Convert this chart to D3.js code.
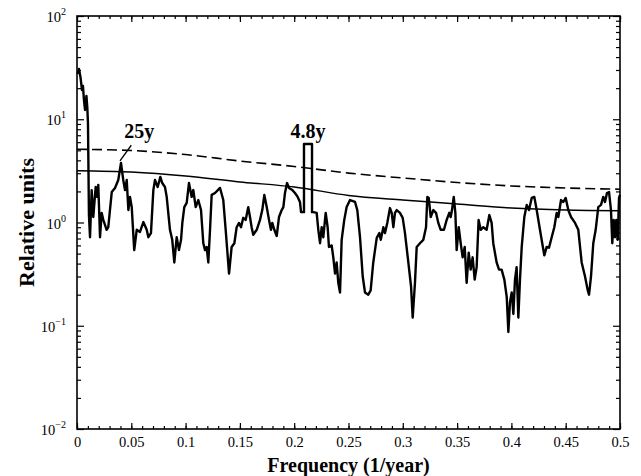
<!DOCTYPE html>
<html>
<head>
<meta charset="utf-8">
<script src="https://cdn.jsdelivr.net/npm/d3@7"></script>
<style>
  body { margin: 0; background: #fff; }
  svg text { font-family: "Liberation Serif", "Times New Roman", serif; fill: #000; }
</style>
</head>
<body>
<svg id="chart"></svg>
<script>
// spectrum
const freq = [0.0005,0.0018,0.0032,0.0046,0.0055,0.0064,0.0074,0.0087,0.0095,0.0101,0.0110,0.0120,0.0135,0.0150,0.0172,0.0184,0.0196,0.0212,0.0227,0.0242,
  0.0273,0.0288,0.0320,0.0350,0.0380,0.0405,0.0426,0.0442,0.0458,0.0473,0.0488,0.0504,0.0527,0.0550,0.0580,0.0611,0.0642,0.0657,0.0681,0.0703,
  0.0718,0.0743,0.0767,0.0785,0.0810,0.0826,0.0856,0.0877,0.0896,0.0918,0.0939,0.0958,0.0970,0.0988,0.1010,0.1031,0.1056,0.1071,0.1093,0.1117,
  0.1142,0.1163,0.1179,0.1194,0.1209,0.1225,0.1240,0.1271,0.1317,0.1347,0.1369,0.1400,0.1424,0.1449,0.1470,0.1492,0.1510,0.1531,0.1553,0.1577,
  0.1593,0.1608,0.1623,0.1655,0.1685,0.1706,0.1725,0.1747,0.1768,0.1786,0.1798,0.1817,0.1839,0.1860,0.1885,0.1900,0.1915,0.1934,0.1952,0.1983,
  0.2007,0.2032,0.2053,0.2063,0.2090,0.2090,0.2164,0.2164,0.2176,0.2207,0.2222,0.2238,0.2253,0.2268,0.2290,0.2308,0.2320,0.2345,0.2360,0.2376,
  0.2391,0.2406,0.2422,0.2437,0.2461,0.2483,0.2514,0.2560,0.2581,0.2606,0.2631,0.2652,0.2682,0.2704,0.2728,0.2760,0.2784,0.2797,0.2821,0.2836,
  0.2857,0.2882,0.2898,0.2913,0.2928,0.2944,0.2974,0.2999,0.3020,0.3051,0.3076,0.3091,0.3112,0.3128,0.3158,0.3189,0.3214,0.3226,0.3239,0.3257,
  0.3281,0.3306,0.3327,0.3349,0.3379,0.3404,0.3428,0.3441,0.3453,0.3469,0.3484,0.3496,0.3515,0.3533,0.3551,0.3570,0.3588,0.3607,0.3625,0.3643,
  0.3662,0.3680,0.3698,0.3717,0.3741,0.3772,0.3797,0.3818,0.3833,0.3864,0.3886,0.3910,0.3935,0.3957,0.3972,0.3987,0.4003,0.4018,0.4033,0.4048,
  0.4064,0.4079,0.4095,0.4119,0.4141,0.4162,0.4187,0.4211,0.4233,0.4263,0.4284,0.4303,0.4325,0.4346,0.4371,0.4395,0.4417,0.4432,0.4457,0.4478,
  0.4500,0.4524,0.4549,0.4586,0.4616,0.4647,0.4678,0.4703,0.4715,0.4733,0.4754,0.4776,0.4800,0.4825,0.4846,0.4862,0.4880,0.4899,0.4917,0.4929,
  0.4942,0.4954,0.4966,0.4979,0.4991,0.5000];
const power = [27.4,30.7,25.6,19.2,21.0,15.4,12.3,16.8,12.9,9.2,1.18,0.72,2.06,1.13,2.21,1.77,2.31,0.72,1.24,1.06,
  0.85,0.90,1.97,2.16,2.58,3.77,2.58,2.06,2.58,1.32,1.77,1.41,0.54,0.85,0.81,1.01,0.85,0.72,0.79,2.06,
  2.58,2.21,2.76,2.41,2.21,1.77,0.85,0.68,0.41,0.72,0.54,0.68,0.99,1.41,1.55,2.41,1.77,2.06,1.41,1.65,
  1.32,0.63,0.54,0.58,0.41,0.85,1.85,1.93,2.16,1.65,0.85,0.32,0.58,0.63,0.90,0.99,0.90,1.11,1.06,1.41,
  1.13,0.90,0.76,0.85,1.06,1.32,1.85,1.41,1.06,0.85,0.99,0.85,0.74,1.13,1.32,1.41,1.93,2.41,2.16,2.06,
  1.93,1.77,1.58,1.26,1.26,5.76,5.76,1.26,1.26,1.24,0.85,0.63,0.90,0.72,1.24,0.90,0.58,0.60,0.46,0.32,
  0.41,0.26,0.21,0.68,1.06,1.41,1.65,1.58,1.32,0.72,0.30,0.21,0.20,0.22,0.41,0.71,0.79,0.68,0.90,0.79,
  0.99,1.38,1.24,0.90,1.24,1.32,1.24,1.11,0.79,0.41,0.24,0.12,0.26,0.58,0.63,0.68,0.90,1.77,1.73,1.13,
  1.32,1.24,0.99,0.85,0.85,1.06,1.24,1.13,1.32,1.77,1.24,0.54,0.90,0.63,0.46,0.58,0.26,0.51,0.35,0.46,
  0.28,0.37,1.06,0.85,0.90,0.85,1.18,0.99,0.63,0.41,0.35,0.35,0.28,0.19,0.087,0.17,0.21,0.13,0.28,0.37,
  0.12,0.28,0.58,1.13,1.48,1.32,1.73,1.77,1.32,0.85,0.63,0.48,0.58,0.57,0.72,0.90,1.24,1.13,1.65,1.58,
  1.73,1.32,1.13,0.99,0.85,0.41,0.30,0.22,0.20,0.30,0.63,0.85,1.41,1.48,1.77,1.58,1.93,1.97,1.32,0.63,
  1.06,0.72,1.06,0.68,1.73,1.85];

// red-noise background (solid) and confidence level (dashed)
const bgFreq = [0, 0.05, 0.1, 0.15, 0.2, 0.25, 0.3, 0.35, 0.4, 0.45, 0.5];
const redNoise = [3.17, 3.08, 2.82, 2.47, 2.21, 1.83, 1.65, 1.51, 1.38, 1.32, 1.30];
const confLevel = [5.12, 4.98, 4.55, 3.94, 3.49, 3.01, 2.70, 2.44, 2.26, 2.16, 2.10];

const xTicks = [0, 0.05, 0.1, 0.15, 0.2, 0.25, 0.3, 0.35, 0.4, 0.45, 0.5];
const yExponents = [-2, -1, 0, 1, 2];

const annotations = [
  { text: "25y", f: 0.0405, v: 3.77, lx: 0.050, ly: 5.6 },
  { text: "4.8y", f: 0.2127, v: 5.76 }
];

const width = 641, height = 476;
const margin = { top: 16, right: 21, bottom: 47, left: 77 };
const iw = width - margin.left - margin.right;
const ih = height - margin.top - margin.bottom;

const svg = d3.select("#chart").attr("width", width).attr("height", height);
const g = svg.append("g").attr("transform", `translate(${margin.left},${margin.top})`);

const x = d3.scaleLinear().domain([0, 0.5]).range([0, iw]);
const y = d3.scaleLog().domain([1e-2, 1e2]).range([ih, 0]);

// minor tick positions
const xMinor = d3.range(0, 51).map(i => i / 100);
const yMinor = [];
yExponents.slice(0, -1).forEach(e => {
  for (let k = 2; k <= 9; k++) yMinor.push(k * Math.pow(10, e));
});
const yMajor = yExponents.map(e => Math.pow(10, e));

function styleAxis(sel) {
  sel.select(".domain").remove();
  sel.selectAll(".tick line").attr("stroke", "#000").attr("stroke-width", 1.2);
}

// x axis, bottom + top
g.append("g").attr("transform", `translate(0,${ih})`)
  .call(d3.axisBottom(x).tickValues(xMinor).tickSize(-3).tickFormat(""))
  .call(styleAxis);
g.append("g").attr("transform", `translate(0,${ih})`)
  .call(d3.axisBottom(x).tickValues(xTicks).tickSize(-6).tickPadding(8)
    .tickFormat(d => d3.format("~g")(d)))
  .call(styleAxis)
  .call(a => a.selectAll("text").attr("font-size", 14.5).attr("dy", "0.71em"));
g.append("g")
  .call(d3.axisTop(x).tickValues(xMinor).tickSize(-3).tickFormat(""))
  .call(styleAxis);
g.append("g")
  .call(d3.axisTop(x).tickValues(xTicks).tickSize(-6).tickFormat(""))
  .call(styleAxis);

// y axis, left + right
g.append("g")
  .call(d3.axisLeft(y).tickValues(yMinor).tickSize(-4).tickFormat(""))
  .call(styleAxis);
g.append("g")
  .call(d3.axisLeft(y).tickValues(yMajor).tickSize(-7).tickFormat(""))
  .call(styleAxis);
g.append("g").attr("transform", `translate(${iw},0)`)
  .call(d3.axisRight(y).tickValues(yMinor).tickSize(-4).tickFormat(""))
  .call(styleAxis);
g.append("g").attr("transform", `translate(${iw},0)`)
  .call(d3.axisRight(y).tickValues(yMajor).tickSize(-7).tickFormat(""))
  .call(styleAxis);

// y tick labels as 10^n
const yl = g.append("g").selectAll("text")
  .data(yExponents)
  .join("text")
  .attr("x", -11)
  .attr("y", d => y(Math.pow(10, d)) + 6)
  .attr("text-anchor", "end")
  .attr("font-size", 14.5);
yl.append("tspan").text("10");
yl.append("tspan")
  .attr("font-size", 10)
  .attr("dy", -7)
  .text(d => d < 0 ? "\u2212" + Math.abs(d) : d);

// frame
g.append("rect")
  .attr("width", iw).attr("height", ih)
  .attr("fill", "none").attr("stroke", "#000").attr("stroke-width", 1.6);

// background and confidence curves
const bgLine = d3.line()
  .x((d, i) => x(bgFreq[i]))
  .y(d => y(d))
  .curve(d3.curveMonotoneX);

g.append("path")
  .attr("d", bgLine(redNoise))
  .attr("fill", "none").attr("stroke", "#000").attr("stroke-width", 1.5);

g.append("path")
  .attr("d", bgLine(confLevel))
  .attr("fill", "none").attr("stroke", "#000").attr("stroke-width", 1.6)
  .attr("stroke-dasharray", "10,5");

// spectrum
const specLine = d3.line()
  .x((d, i) => x(freq[i]))
  .y(d => y(d));

g.append("path")
  .attr("d", specLine(power))
  .attr("fill", "none").attr("stroke", "#000").attr("stroke-width", 2.4)
  .attr("stroke-linejoin", "round");

// annotations
const a25 = annotations[0];
g.append("line")
  .attr("x1", x(a25.f) - 1).attr("y1", y(a25.v) - 2)
  .attr("x2", x(a25.lx)).attr("y2", y(a25.ly))
  .attr("stroke", "#000").attr("stroke-width", 1.3);
g.append("text")
  .attr("x", x(a25.lx) + 8).attr("y", y(a25.ly) - 7)
  .attr("text-anchor", "middle")
  .attr("font-size", 20).attr("font-weight", "bold")
  .text(a25.text);

const a48 = annotations[1];
g.append("text")
  .attr("x", x(a48.f)).attr("y", y(a48.v) - 6)
  .attr("text-anchor", "middle")
  .attr("font-size", 20).attr("font-weight", "bold")
  .text(a48.text);

// axis titles
svg.append("text")
  .attr("x", margin.left + iw / 2).attr("y", height - 4)
  .attr("text-anchor", "middle")
  .attr("font-size", 20).attr("font-weight", "bold")
  .text("Frequency (1/year)");

svg.append("text")
  .attr("transform", `translate(34,${margin.top + ih / 2}) rotate(-90)`)
  .attr("text-anchor", "middle")
  .attr("font-size", 22).attr("font-weight", "bold")
  .text("Relative units");
</script>
</body>
</html>
